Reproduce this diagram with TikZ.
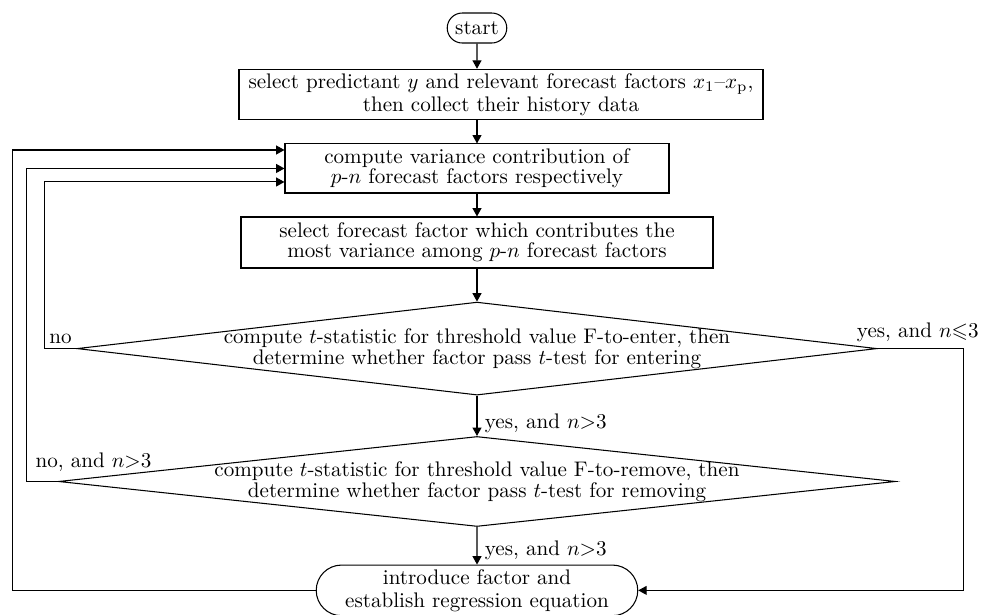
\documentclass[tikz,border=0pt]{standalone}
\usepackage{amsmath,amssymb}
\usetikzlibrary{arrows.meta,calc,positioning,shapes.geometric,shapes.misc}
\tikzset{box/.style={draw,line width=0.5pt,align=center,inner sep=2pt,minimum height=0.817cm,font=\fontsize{10}{9.5}\selectfont},
  term/.style={box,rounded rectangle},
  decide/.style={draw,line width=0.5pt,diamond,align=center,inner sep=-4pt,font=\fontsize{10}{8.3}\selectfont},
  arr/.style={-{Triangle[length=1.4mm,width=1.5mm]},line width=0.5pt},
  lbl/.style={inner sep=2pt,font=\fontsize{10}{12}\selectfont}}

\begin{document}
\begin{tikzpicture}
\useasboundingbox (0,0) rectangle (16.417,10.25);
% steps
\node[term,minimum width=1.133cm,minimum height=0.5cm] (start) at (7.95,9.783) {start};
\node[box,minimum width=8.733cm] (collect) at (8.35,8.675) {select predictant $y$ and relevant forecast factors $x_1$--$x_{\mathrm{p}}$,\\ then collect their history data};
\node[box,minimum width=6.4cm] (variance) at (7.95,7.442) {compute variance contribution of\\ $p$-$n$ forecast factors respectively};
\node[box,minimum width=7.867cm,minimum height=0.85cm] (pick) at (7.95,6.208) {select forecast factor which contributes the\\ most variance among $p$-$n$ forecast factors};
\node[decide,aspect=8.6,minimum width=13.333cm,minimum height=1.55cm] (enter) at (7.95,4.44) {compute $t$-statistic for threshold value F-to-enter, then\\ determine whether factor pass $t$-test for entering};
\node[decide,aspect=9.3,minimum width=13.95cm,minimum height=1.5cm] (remove) at (7.95,2.225) {compute $t$-statistic for threshold value F-to-remove, then\\ determine whether factor pass $t$-test for removing};
\node[term,minimum width=5.5cm,minimum height=0.75cm,font=\fontsize{10}{10.9}\selectfont] (regress) at (7.95,0.41) {introduce factor and\\ establish regression equation};
% main line
\draw[arr] (start) -- (start |- collect.north);
\draw[arr] (variance.north |- collect.south) -- (variance.north);
\draw[arr] (variance) -- (pick);
\draw[arr] (pick) -- (enter);
\draw[arr] (enter) -- node[lbl,right,xshift=1.5pt,pos=0.68]{yes, and $n{>}3$} (remove);
\draw[arr] (remove) -- node[lbl,right,xshift=1.5pt,pos=0.61]{yes, and $n{>}3$} (regress);
% loops back
\draw[arr] (enter.west) node[lbl,above left]{no} -- ++(-0.533,0) |- ([yshift=-0.225cm]variance.west);
\draw[arr] (remove.west) -- ++(-0.517,0) |- (variance.west);
\node[lbl,above right] (lremove) at ([shift={(-0.45cm,0.08cm)}]remove.west) {no, and $n{>}3$};
\draw[arr] (regress.west) -- ++(-5.05,0) |- ([yshift=0.308cm]variance.west);
\draw[arr] (enter.east) -- ++(1.433,0) |- (regress.east);
\node[lbl,above right] (lenter) at ([shift={(-0.42cm,0.03cm)}]enter.east) {yes, and $n{\leqslant}3$};
\end{tikzpicture}
\end{document}
